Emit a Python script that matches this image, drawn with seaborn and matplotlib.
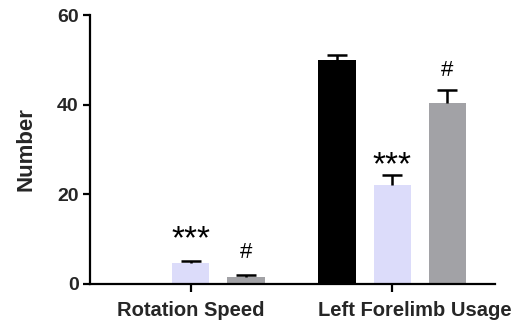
import pandas as pd
import numpy as np
import matplotlib
matplotlib.use('Agg')
import matplotlib.pyplot as plt
import matplotlib.transforms as mtrans
import seaborn as sns

measures = ['Rotation Speed', 'Left Forelimb Usage']
groups = ['Sham', 'Model', 'Treatment']
means = {'Sham': [0.0, 50.0], 'Model': [4.6, 22.1], 'Treatment': [1.6, 40.3]}
sems = {'Sham': [0.0, 1.0], 'Model': [0.5, 2.2], 'Treatment': [0.3, 2.9]}
marks = {'Sham': ['', ''], 'Model': ['***', '***'], 'Treatment': ['#', '#']}
mark_y = {'Sham': [0, 0], 'Model': [11.2, 27.7], 'Treatment': [7.0, 47.7]}
colors = ['#000000', '#dcdcfa', '#a2a2a6']

rows = []
for g in groups:
    for i, m in enumerate(measures):
        rows.append({'measure': m, 'group': g, 'value': means[g][i]})
df = pd.DataFrame(rows)

sns.set_style('ticks')
plt.rcParams['font.family'] = ['Liberation Sans', 'DejaVu Sans']
plt.rcParams['font.weight'] = 'bold'

fig = plt.figure(figsize=(5.2, 3.2), dpi=100)
ax = fig.add_axes([0.173, 0.1125, 0.779, 0.8405])
sns.barplot(data=df, x='measure', y='value', hue='group', order=measures,
            hue_order=groups, palette=colors, width=0.82, gap=0.32,
            errorbar=None, legend=False, ax=ax, saturation=1, linewidth=0)

# patches come in hue order, then category order
k = 0
for g in groups:
    for i, m in enumerate(measures):
        p = ax.patches[k]
        k += 1
        xc = p.get_x() + p.get_width() / 2
        top = p.get_height()
        s = sems[g][i]
        if s > 0:
            _, caps, _ = ax.errorbar(xc, top, yerr=[[0], [s]], fmt='none',
                                     ecolor='black', elinewidth=1.8,
                                     capsize=7, capthick=1.8)
            caps[0].set_visible(False)
        txt = marks[g][i]
        if txt:
            if txt == '***':
                ax.text(xc, mark_y[g][i] - 1.3, txt, ha='center', va='center',
                        fontsize=24, fontweight='normal', color='black')
            else:
                ax.text(xc, mark_y[g][i], txt, ha='center', va='center',
                        fontsize=16, fontweight='normal', color='black')

ax.set_ylim(0, 60)
ax.set_xlim(-0.5, 1.51)
ax.set_yticks([0, 20, 40, 60])
ax.set_xlabel('')
ax.set_ylabel('Number', fontsize=16, fontweight='bold', labelpad=15)
ax.tick_params(axis='y', width=1.6, length=5, labelsize=14, color='black',
               pad=3)
ax.tick_params(axis='x', width=1.6, length=6, labelsize=14.5, color='black',
               pad=6)
for lab in ax.get_xticklabels() + ax.get_yticklabels():
    lab.set_fontweight('bold')
# second category label sits a bit right of its tick in the original
shift = mtrans.ScaledTranslation(23 / 100, 0, fig.dpi_scale_trans)
lab2 = ax.get_xticklabels()[1]
lab2.set_transform(lab2.get_transform() + shift)
for sp in ['left', 'bottom']:
    ax.spines[sp].set_linewidth(1.6)
    ax.spines[sp].set_color('black')
sns.despine(ax=ax)

fig.savefig('out.png', dpi=100)
